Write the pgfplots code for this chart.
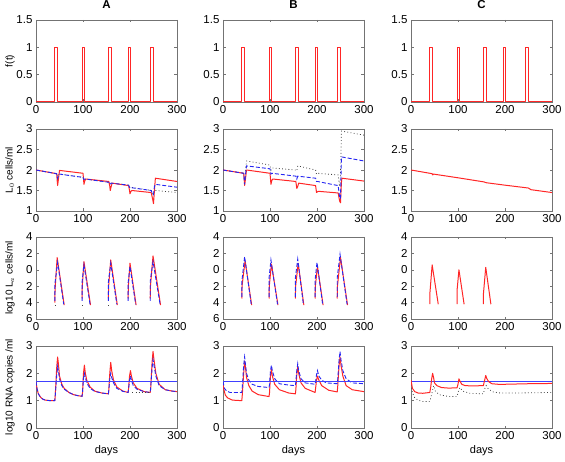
\documentclass[border=0pt]{standalone}
\usepackage{fontspec}
\setmainfont{Liberation Sans}
\usepackage{pgfplots}
\pgfplotsset{compat=1.18}
\pgfplotsset{
 panel/.style={scale only axis, width=141pt, height=82pt, xmin=0, xmax=300,
   xtick={0,100,200,300}, tick align=inside, major tick length=2.5pt,
   axis line style={black!55, line width=0.7pt}, every tick/.style={black!55, line width=0.5pt},
   tick label style={font=\fontsize{11.5}{13}\selectfont, black},
   /pgf/number format/assume math mode=true,
   ylabel style={font=\fontsize{10}{12}\selectfont, at={(axis description cs:-0.165,0.5)}, anchor=base},
   xlabel style={font=\fontsize{11}{13}\selectfont, at={(axis description cs:0.5,-0.31)}, anchor=base},
   title style={font=\fontsize{11.5}{13}\selectfont\bfseries, at={(axis description cs:0.5,1.07)}, anchor=base, yshift=0pt},
   unbounded coords=jump, anchor=south west},
 r1/.style={panel, ymin=0, ymax=1.5, ytick={0,0.5,1,1.5}},
 r2/.style={panel, ymin=1, ymax=3, ytick={1,1.5,2,2.5,3}},
 r3/.style={panel, ymin=-6, ymax=4, ytick={-6,-4,-2,0,2,4}, yticklabels={6,4,2,0,2,4}},
 r4/.style={panel, ymin=0, ymax=3, ytick={0,1,2,3}},
 rl/.style={color={rgb,1:red,1;green,0.15;blue,0.15}, line width=1pt, line join=round, mark=none},
 bd/.style={color={rgb,1:red,0.15;green,0.15;blue,0.95}, line width=0.9pt, dash pattern=on 4pt off 2pt, mark=none},
 kd/.style={black!75, line width=0.8pt, dash pattern=on 0.8pt off 2.4pt, mark=none},
 bs/.style={color={rgb,1:red,0.25;green,0.25;blue,1}, line width=1pt, mark=none},
}
\newcommand{\pulses}{\addplot[rl] coordinates {(0,0)(40,0)(40,1)(45,1)(45,0)(98,0)(98,1)(103,1)(103,0)(154,0)(154,1)(160,1)(160,0)(196,0)(196,1)(201,1)(201,0)(243,0)(243,1)(249,1)(249,0)(300,0)};}
\begin{document}
\begin{tikzpicture}
\useasboundingbox (0,0) rectangle (565pt,461pt);
% ---------- Row 1 ----------
\begin{axis}[r1, at={(36pt,359pt)}, title={A}, ylabel={f(t)}]
\pulses
\end{axis}
\begin{axis}[r1, at={(223pt,359pt)}, title={B}]
\pulses
\end{axis}
\begin{axis}[r1, at={(411pt,359pt)}, title={C}]
\pulses
\end{axis}
% ---------- Row 2 ----------
\begin{axis}[r2, at={(36pt,250pt)}, ylabel={L$_0$ cells/ml}]
\addplot[kd] coordinates {(0,2.0)(45,1.9)(46,1.8)(48,1.88)(50,1.9)(100,1.82)(102,1.76)(105,1.78)(155,1.7)(157,1.65)(160,1.68)(197,1.63)(200,1.57)(202,1.58)(245,1.5)(248,1.42)(250,1.4)(252,1.48)(254,1.5)(300,1.45)};
\addplot[rl] coordinates {(0,2.0)(44,1.91)(45,1.75)(46,1.62)(48,1.8)(50,1.99)(100,1.92)(101,1.8)(102,1.65)(104,1.74)(106,1.78)(155,1.72)(157,1.6)(158,1.5)(160,1.6)(162,1.68)(197,1.62)(199,1.5)(200,1.42)(202,1.48)(204,1.5)(245,1.45)(248,1.3)(250,1.18)(252,1.5)(254,1.8)(300,1.72)};
\addplot[bd] coordinates {(0,2.0)(44,1.91)(46,1.8)(48,1.88)(50,1.9)(100,1.82)(102,1.77)(105,1.78)(155,1.7)(157,1.65)(160,1.68)(197,1.63)(200,1.56)(202,1.57)(245,1.5)(248,1.42)(250,1.4)(252,1.6)(254,1.65)(300,1.58)};
\end{axis}
\begin{axis}[r2, at={(223pt,250pt)}]
\addplot[kd] coordinates {(0,2)(44,1.92)(46,1.7)(48,2.0)(50,2.22)(100,2.12)(102,2.0)(104,2.05)(155,2.0)(157,1.98)(159,2.1)(197,2.0)(199,1.9)(201,1.92)(245,1.88)(248,1.6)(250,1.85)(252,2.95)(300,2.85)};
\addplot[rl] coordinates {(0,2)(44,1.92)(46,1.62)(48,1.8)(50,2.0)(100,1.92)(102,1.65)(104,1.75)(106,1.78)(155,1.72)(157,1.55)(159,1.6)(161,1.68)(197,1.62)(199,1.45)(201,1.47)(203,1.48)(245,1.44)(248,1.25)(250,1.2)(252,1.7)(253,1.8)(300,1.73)};
\addplot[bd] coordinates {(0,2)(44,1.92)(46,1.65)(48,1.9)(50,2.1)(100,2.03)(102,1.9)(104,1.92)(155,1.85)(157,1.78)(159,1.85)(197,1.8)(199,1.72)(201,1.72)(245,1.62)(248,1.35)(250,1.3)(252,2.32)(300,2.22)};
\end{axis}
\begin{axis}[r2, at={(411pt,250pt)}]
\addplot[rl] coordinates {(0,2)(45,1.91)(46,1.88)(48,1.9)(100,1.81)(155,1.71)(160,1.69)(200,1.63)(250,1.56)(255,1.52)(300,1.45)};
\end{axis}
% ---------- Row 3 ----------
\begin{axis}[r3, at={(36pt,142pt)}, ylabel={log10 L$_a$ cells/ml}]
\addplot[rl] coordinates {(40,-4)(40.5,-2.5)(45,1.5)(60,-4.3) (60,nan) (98,-3.5)(98.5,-2)(102,1.0)(116,-4.3) (116,nan) (154,-3.5)(154.5,-2)(159,1.2)(173,-4.3) (173,nan) (196,-3.5)(196.5,-2)(200,0.8)(213,-4.3) (213,nan) (243,-3.5)(243.5,-2)(249,1.7)(265,-4.3)};
\addplot[bd] coordinates {(40,-3.8)(40,-1.8)(46,0.9)(59,-4.2) (59,nan) (98,-3.8)(98,-1.5)(102,0.6)(115,-4.2) (115,nan) (154,-3.8)(154,-1.5)(159,0.8)(172,-4.2) (172,nan) (196,-3.8)(196,-1.6)(200,0.4)(212,-4.2) (212,nan) (243,-3.8)(243,-1.4)(249,1.0)(264,-4.2)};
\addplot[kd] coordinates {(40,-4.3)(42,-4.3) (42,nan) (98,-4.3)(100,-4.3) (100,nan) (154,-4.3)(156,-4.3)};
\end{axis}
\begin{axis}[r3, at={(223pt,142pt)}]
\addplot[rl] coordinates {(40,-3.5)(40.5,-2)(47,1.1)(61,-4.3) (61,nan) (98,-3.5)(98.5,-2)(103,0.7)(117,-4.3) (117,nan) (154,-3.5)(154.5,-2)(160,0.8)(172,-4.3) (172,nan) (196,-3.5)(196.5,-2)(201,0.4)(213,-4.3) (213,nan) (243,-3.5)(243.5,-2)(250,1.5)(265,-4.3)};
\addplot[bd] coordinates {(40,-3.3)(40,-1.5)(46,1.6)(60,-4.2) (60,nan) (98,-3.3)(98,-1)(102,1.2)(116,-4.2) (116,nan) (154,-3.3)(154,-1)(159,1.3)(171,-4.2) (171,nan) (196,-3.3)(196,-1.2)(200,0.9)(212,-4.2) (212,nan) (243,-3.3)(243,-1)(249,1.9)(264,-4.2)};
\end{axis}
\begin{axis}[r3, at={(411pt,142pt)}]
\addplot[rl] coordinates {(40,-4.2)(40,-3)(45,0.6)(58,-4.2) (58,nan) (98,-4.2)(98,-2.5)(102,0)(113,-4.2) (113,nan) (154,-4.2)(154,-3)(159,0.3)(170,-4.2)};
\end{axis}
% ---------- Row 4 ----------
\begin{axis}[r4, at={(36pt,33pt)}, ylabel={log10 RNA copies /ml}, xlabel={days}]
\addplot[rl] coordinates {(0,1.7)(2,1.45)(5,1.25)(10,1.12)(15,1.05)(20,1.02)(30,1.0)(40,1.0)(41,1.2)(44,2.2)(46,2.6)(48,2.3)(50,1.9)(55,1.6)(60,1.45)(70,1.3)(80,1.22)(90,1.18)(98,1.16)(99,1.3)(101,2.0)(103,2.3)(105,2.0)(108,1.75)(115,1.5)(125,1.35)(140,1.28)(154,1.25)(155,1.4)(157,2.0)(159,2.4)(161,2.1)(165,1.75)(172,1.5)(185,1.35)(196,1.3)(197,1.45)(199,1.9)(201,2.1)(203,1.9)(207,1.65)(215,1.45)(230,1.33)(243,1.3)(244,1.45)(247,2.4)(249,2.8)(251,2.5)(255,2.0)(262,1.6)(275,1.4)(290,1.35)(300,1.33)};
\addplot[bd] coordinates {(0,1.7)(2,1.45)(5,1.25)(10,1.12)(15,1.05)(20,1.02)(30,1.0)(40,1.0)(41,1.2)(44,1.9)(46,2.25)(48,2.05)(50,1.8)(55,1.55)(60,1.42)(70,1.3)(80,1.22)(90,1.18)(98,1.16)(99,1.3)(101,1.8)(103,2.0)(105,1.85)(108,1.65)(115,1.45)(125,1.34)(140,1.28)(154,1.25)(155,1.4)(157,1.8)(159,2.0)(161,1.85)(165,1.65)(172,1.45)(185,1.34)(196,1.3)(197,1.42)(199,1.75)(201,1.9)(203,1.75)(207,1.55)(215,1.42)(230,1.33)(243,1.3)(244,1.45)(247,2.2)(249,2.5)(251,2.3)(255,1.9)(262,1.55)(275,1.4)(290,1.35)(300,1.33)};
\addplot[kd] coordinates {(205,1.3)(243,1.3)};
\addplot[bs] coordinates {(0,1.7)(300,1.7)};
\end{axis}
\begin{axis}[r4, at={(223pt,33pt)}, xlabel={days}]
\addplot[rl] coordinates {(0,1.6)(2,1.4)(5,1.2)(10,1.1)(20,1.02)(40,1.0)(41,1.2)(44,2.0)(46,2.45)(48,2.2)(50,1.85)(55,1.55)(62,1.35)(75,1.22)(98,1.15)(99,1.3)(101,1.9)(103,2.15)(105,1.9)(110,1.6)(120,1.4)(140,1.28)(154,1.25)(155,1.4)(157,1.95)(159,2.25)(161,2.0)(166,1.65)(175,1.45)(196,1.3)(197,1.45)(199,1.75)(201,1.9)(204,1.75)(210,1.55)(225,1.38)(243,1.32)(244,1.5)(247,2.3)(249,2.6)(251,2.3)(255,1.9)(262,1.55)(275,1.4)(300,1.33)};
\addplot[bd] coordinates {(0,1.7)(3,1.45)(8,1.35)(15,1.3)(40,1.3)(41,1.5)(44,2.3)(46,2.6)(48,2.3)(50,2.0)(55,1.75)(62,1.6)(75,1.52)(98,1.48)(99,1.6)(101,2.1)(103,2.3)(105,2.1)(110,1.8)(120,1.62)(140,1.57)(154,1.55)(155,1.7)(157,2.1)(159,2.35)(161,2.1)(166,1.8)(175,1.65)(196,1.6)(197,1.7)(199,1.95)(201,2.1)(204,1.9)(210,1.75)(220,1.65)(243,1.62)(244,1.75)(247,2.5)(249,2.8)(251,2.5)(255,2.1)(262,1.8)(275,1.65)(300,1.62)};
\addplot[bs] coordinates {(0,1.7)(300,1.7)};
\end{axis}
\begin{axis}[r4, at={(411pt,33pt)}, xlabel={days}]
\addplot[kd] coordinates {(0,1.7)(3,1.3)(8,1.1)(15,1.02)(25,0.97)(40,0.97)(42,1.1)(45,1.3)(48,1.55)(52,1.35)(60,1.22)(80,1.15)(98,1.15)(100,1.3)(104,1.48)(110,1.35)(125,1.27)(154,1.25)(156,1.4)(160,1.55)(165,1.42)(175,1.32)(190,1.28)(220,1.28)(300,1.3)};
\addplot[bs] coordinates {(0,1.7)(300,1.7)};
\addplot[rl] coordinates {(0,1.75)(3,1.45)(8,1.33)(15,1.28)(25,1.27)(40,1.3)(42,1.5)(44,1.8)(46,2.0)(48,1.85)(50,1.65)(55,1.55)(65,1.48)(80,1.46)(98,1.47)(100,1.6)(102,1.8)(104,1.72)(108,1.6)(115,1.55)(130,1.54)(154,1.55)(156,1.7)(159,1.92)(161,1.82)(165,1.7)(172,1.62)(185,1.6)(200,1.6)(250,1.62)(300,1.63)};
\end{axis}
\end{tikzpicture}
\end{document}
